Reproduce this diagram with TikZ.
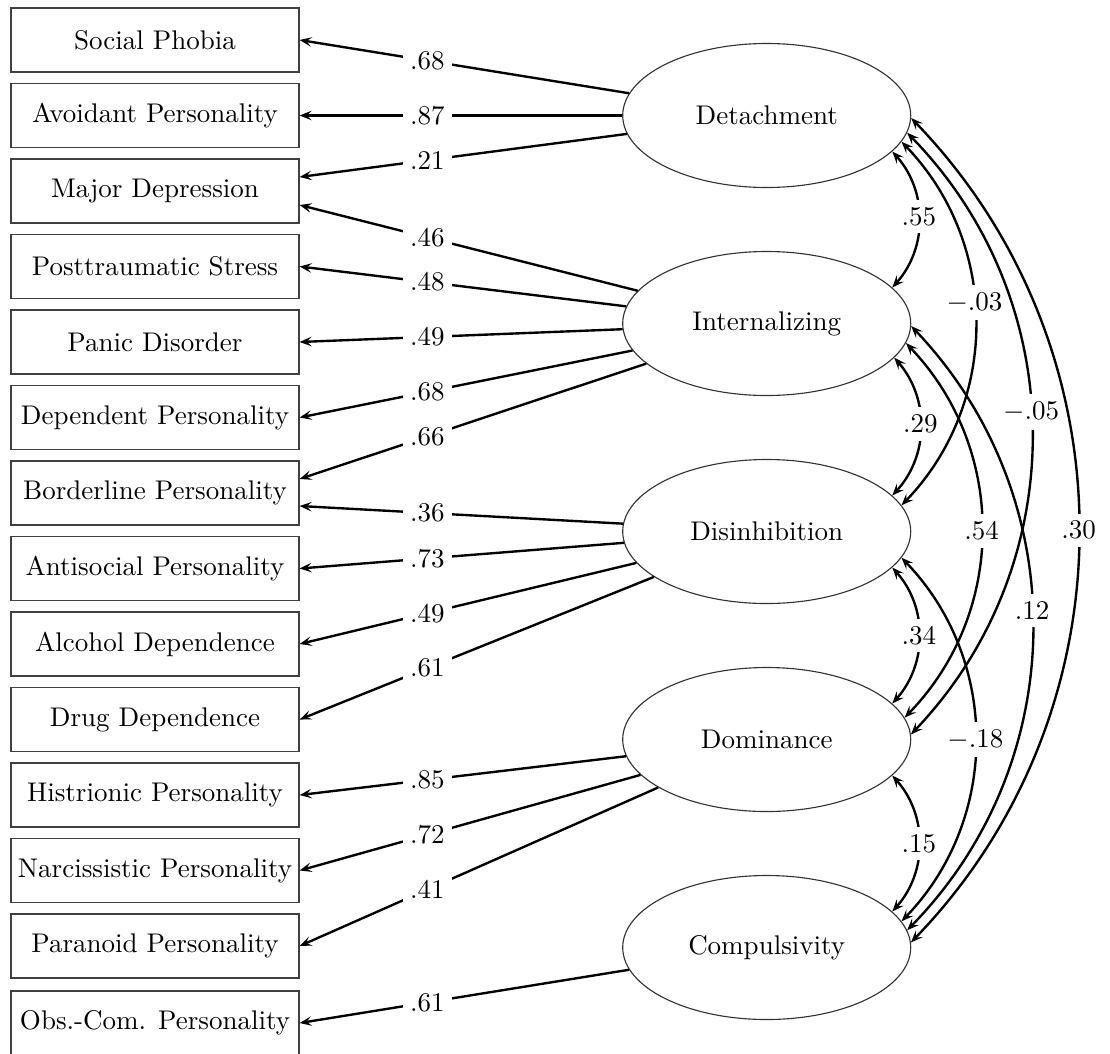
\documentclass[tikz,border=0pt]{standalone}
\usetikzlibrary{shapes.geometric,calc,arrows.meta}
\begin{document}
\begin{tikzpicture}[x=0.4pt,y=-0.4pt,
  font=\fontsize{10.8}{13}\selectfont,
  ind/.style={draw=black!75, line width=0.5pt, minimum width=115.2pt, minimum height=25.6pt, inner sep=0pt},
  lat/.style={draw=black!80, ellipse, line width=0.45pt, minimum width=115.2pt, minimum height=57.6pt, inner sep=0pt},
  tip/.tip={Stealth[length=4.8pt,width=3.8pt,inset=2pt]},
  load/.style={line width=0.95pt, -tip},
  cov/.style={line width=0.95pt, tip-tip},
  lbl/.style={fill=white, inner sep=3pt}]
\useasboundingbox (0,0) rectangle (1110,1053);

% observed indicators
\node[ind] (b1)  at (155,40)     {Social Phobia};
\node[ind] (b2)  at (155,115.5)  {Avoidant Personality};
\node[ind] (b3)  at (155,191)    {Major Depression};
\node[ind] (b4)  at (155,266.5)  {Posttraumatic Stress};
\node[ind] (b5)  at (155,342)    {Panic Disorder};
\node[ind] (b6)  at (155,417.5)  {Dependent Personality};
\node[ind] (b7)  at (155,493)    {Borderline Personality};
\node[ind] (b8)  at (155,568.5)  {Antisocial Personality};
\node[ind] (b9)  at (155,644)    {Alcohol Dependence};
\node[ind] (b10) at (155,719.5)  {Drug Dependence};
\node[ind] (b11) at (155,795)    {Histrionic Personality};
\node[ind] (b12) at (155,870.5)  {Narcissistic Personality};
\node[ind] (b13) at (155,946)    {Paranoid Personality};
\node[ind] (b14) at (155,1023)   {Obs.-Com. Personality};

% latent factors
\node[lat] (Det)  at (766.7,115.5) {Detachment};
\node[lat] (Int)  at (766.7,323.5) {Internalizing};
\node[lat] (Dis)  at (766.7,531.5) {Disinhibition};
\node[lat] (Dom)  at (766.7,739.5) {Dominance};
\node[lat] (Comp) at (766.7,947.5) {Compulsivity};

% split anchors on shared indicators
\coordinate (b3u) at ([yshift=5.6pt]b3.east);
\coordinate (b3d) at ([yshift=-5.6pt]b3.east);
\coordinate (b7u) at ([yshift=5.6pt]b7.east);
\coordinate (b7d) at ([yshift=-5.2pt]b7.east);

% loadings
\draw[load] (Det) -- (b1.east);  \node[lbl] (l1)  at ($(Det.center)!0.7263!(b1.east)$) {.68};
\draw[load] (Det) -- (b2.east);  \node[lbl] (l2)  at ($(Det.center)!0.7263!(b2.east)$) {.87};
\draw[load] (Det) -- (b3u);      \node[lbl] (l3)  at ($(Det.center)!0.7263!(b3u)$) {.21};
\draw[load] (Int) -- (b3d);      \node[lbl] (l4)  at ($(Int.center)!0.7263!(b3d)$) {.46};
\draw[load] (Int) -- (b4.east);  \node[lbl] (l5)  at ($(Int.center)!0.7263!(b4.east)$) {.48};
\draw[load] (Int) -- (b5.east);  \node[lbl] (l6)  at ($(Int.center)!0.7263!(b5.east)$) {.49};
\draw[load] (Int) -- (b6.east);  \node[lbl] (l7)  at ($(Int.center)!0.7263!(b6.east)$) {.68};
\draw[load] (Int) -- (b7u);      \node[lbl] (l8)  at ($(Int.center)!0.7263!(b7u)$) {.66};
\draw[load] (Dis) -- (b7d);      \node[lbl] (l9)  at ($(Dis.center)!0.7263!(b7d)$) {.36};
\draw[load] (Dis) -- (b8.east);  \node[lbl] (l10) at ($(Dis.center)!0.7263!(b8.east)$) {.73};
\draw[load] (Dis) -- (b9.east);  \node[lbl] (l11) at ($(Dis.center)!0.7263!(b9.east)$) {.49};
\draw[load] (Dis) -- (b10.east); \node[lbl] (l12) at ($(Dis.center)!0.7263!(b10.east)$) {.61};
\draw[load] (Dom) -- (b11.east); \node[lbl] (l13) at ($(Dom.center)!0.7263!(b11.east)$) {.85};
\draw[load] (Dom) -- (b12.east); \node[lbl] (l14) at ($(Dom.center)!0.7263!(b12.east)$) {.72};
\draw[load] (Dom) -- (b13.east); \node[lbl] (l15) at ($(Dom.center)!0.7263!(b13.east)$) {.41};
\draw[load] (Comp) -- (b14.east); \node[lbl] (l16) at ($(Comp.center)!0.7263!(b14.east)$) {.61};

% factor covariances
\draw[cov] (Det.-16)   to[bend left=42] node[lbl,pos=0.48] (c1) {.55} (Int.16);
\draw[cov] (Int.-15.5) to[bend left=42] node[lbl,pos=0.48] (c2) {.29} (Dis.16);
\draw[cov] (Dis.-16.3) to[bend left=42] node[lbl] (c3) {.34} (Dom.16.5);
\draw[cov] (Dom.-16.4) to[bend left=42] node[lbl] (c4) {.15} (Comp.16);
\draw[cov] (Det.-11)   to[bend left=44] node[lbl,pos=0.447] (c5) {$-$.03} (Dis.11.3);
\draw[cov] (Int.-8.5)  to[bend left=44] node[lbl] (c6) {.54} (Dom.9.7);
\draw[cov] (Dis.-11.7) to[bend left=44] node[lbl] (c7) {$-$.18} (Comp.11);
\draw[cov] (Det.-7)    to[bend left=44] node[lbl,pos=0.468] (c8) {$-$.05} (Dom.2.4);
\draw[cov] (Int.-1.3)  to[bend left=44] node[lbl,pos=0.472] (c9) {.12} (Comp.7);
\draw[cov] (Det.-1)    to[bend left=44] node[lbl] (c10) {.30} (Comp.2.2);
\end{tikzpicture}
\end{document}
